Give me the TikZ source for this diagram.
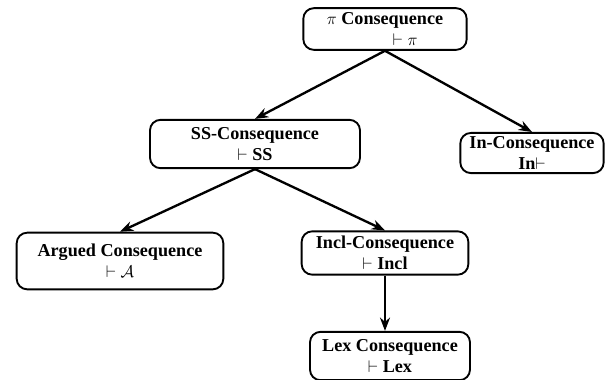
\documentclass[tikz,border=0pt]{standalone}
\usepackage{fontspec}
\setmainfont{Liberation Serif}
\usetikzlibrary{arrows.meta, positioning}

\begin{document}
\begin{tikzpicture}[x=0.03cm, y=-0.03cm,
      conseq/.style={draw, line width=1.6pt, rounded corners=9pt, align=center,
                     font=\fontsize{15.5}{18}\selectfont\bfseries, inner sep=3pt},
      arr/.style={-{Stealth[length=4mm, width=3mm]}, line width=2pt}]
    \useasboundingbox (0,0) rectangle (606,379);
    \node[conseq, minimum width=4.9cm, minimum height=1.25cm] (pi)   at (385,29)  {$\pi$ Consequence\\\hspace*{1.2cm}$\vdash\pi$};
    \node[conseq, minimum width=6.3cm, minimum height=1.45cm] (ss)   at (255,144) {SS-Consequence\\$\vdash$ SS};
    \node[conseq, minimum width=4.3cm, minimum height=1.15cm] (in)   at (532,153) {In-Consequence\\In$\vdash$};
    \node[conseq, minimum width=6.2cm, minimum height=1.7cm]  (arg)  at (120,261) {Argued Consequence\\$\vdash\mathcal{A}$};
    \node[conseq, minimum width=5.0cm, minimum height=1.3cm]  (incl) at (385,253) {Incl-Consequence\\$\vdash$ Incl};
    \node[conseq, minimum width=4.8cm, minimum height=1.45cm] (lex)  at (390,356) {Lex Consequence\\$\vdash$ Lex};
    \draw[arr] (pi.south) -- (ss.north);
    \draw[arr] (pi.south) -- (in.north);
    \draw[arr] (ss.south) -- (arg.north);
    \draw[arr] (ss.south) -- (incl.north);
    \draw[arr] (incl.south) -- (incl.south |- lex.north);
  \end{tikzpicture}
\end{document}
